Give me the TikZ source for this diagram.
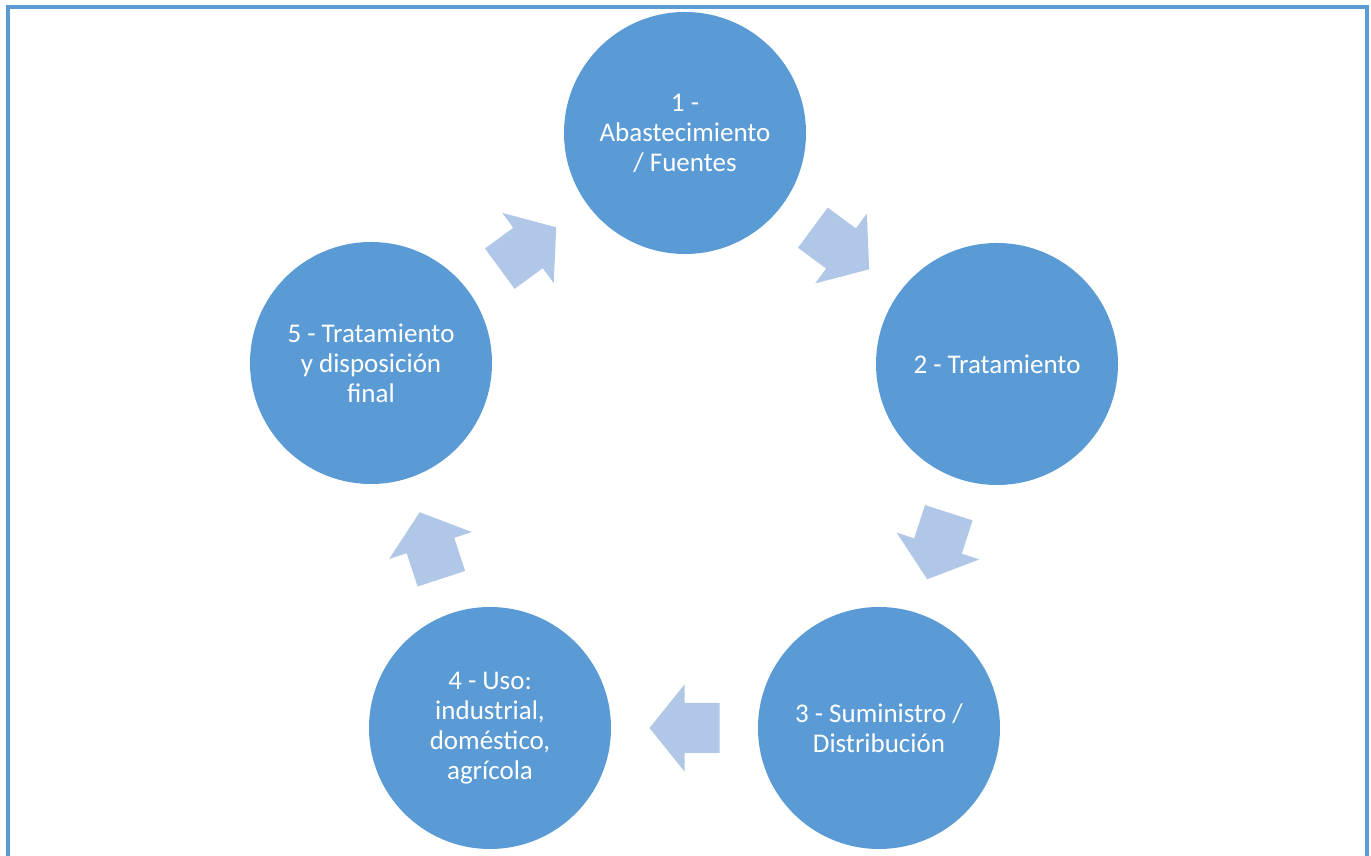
\documentclass[tikz,border=0pt]{standalone}
\usepackage{fontspec}
\setmainfont{Carlito}
\usetikzlibrary{calc}
\definecolor{circblue}{RGB}{91,155,213}
\definecolor{arrblue}{RGB}{177,199,231}
\definecolor{framecol}{RGB}{91,155,213}
\tikzset{
  stage/.style={circle, fill=circblue, draw=none, minimum size=242pt, inner sep=0pt,
    text=white, align=center, font=\fontsize{27}{30}\selectfont},
  blockarrow/.pic={
    \fill[arrblue] (-35,-25) -- (0,-25) -- (0,-43.5) -- (35,0) -- (0,43.5) -- (0,25) -- (-35,25) -- cycle;
  },
  framestyle/.style={draw=framecol, line width=4pt}
}
\begin{document}
\begin{tikzpicture}[x=1pt,y=1pt]
\useasboundingbox (0,0) rectangle (1371,856);
\draw[framestyle] (8,-10) -- (8,849) -- (1367,849) -- (1367,-10);
\node[stage] (c1) at (685,723) {1 -\\Abastecimiento\\/ Fuentes};
\node[stage] (c2) at (997,492) {2 - Tratamiento};
\node[stage] (c3) at (879,128) {3 - Suministro /\\Distribución};
\node[stage] (c4) at (490,128) {4 - Uso:\\industrial,\\doméstico,\\agrícola};
\node[stage] (c5) at (371,493) {5 - Tratamiento\\y disposición\\final};
\foreach \a/\b in {c1/c2, c2/c3, c3/c4, c4/c5, c5/c1}{
  \path let \p1 = ($(\b)-(\a)$), \n1 = {atan2(\y1,\x1)} in
    pic[rotate=\n1] at ($(\a)!0.5!(\b)$) {blockarrow};
}
\end{tikzpicture}
\end{document}
